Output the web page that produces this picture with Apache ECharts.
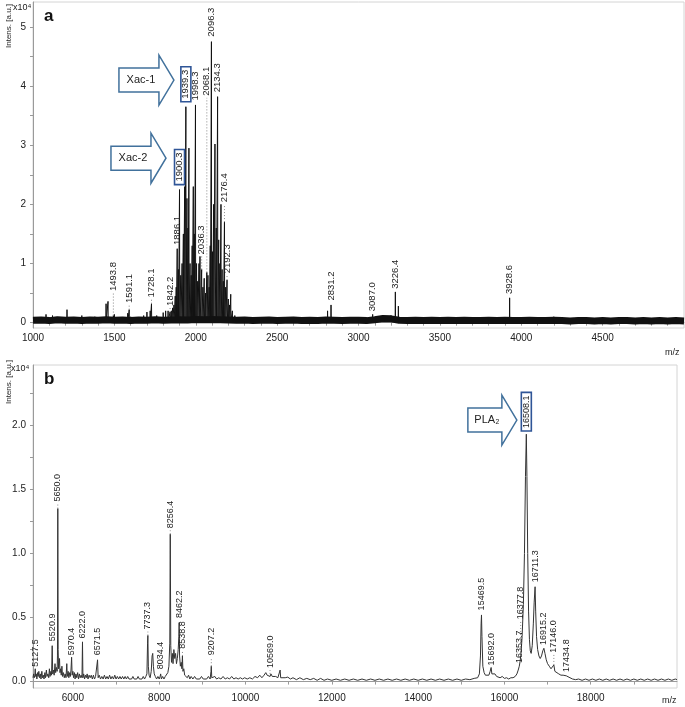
<!DOCTYPE html>
<html>
<head>
<meta charset="utf-8">
<script src="https://cdn.jsdelivr.net/npm/echarts@6.0.0/dist/echarts.min.js"></script>
<style>
html,body{margin:0;padding:0;background:#fff;}
#main{width:685px;height:707px;}
</style>
</head>
<body>
<div id="main"></div>
<script>
// ---------- panel a : m/z 1000 - 5000, intensity in units of 1e4
var aNoiseStart = 1000, aNoiseStep = 50;
var aNoise = [
  0.04,0.045,0.035,0.05,0.04,0.045,0.035,0.045,0.04,0.05,
  0.04,0.045,0.035,0.045,0.04,0.05,0.04,0.045,0.05,0.045,
  0.055,0.05,0.055,0.05,0.045,0.04,0.045,0.035,0.04,0.045,
  0.035,0.04,0.045,0.035,0.04,0.035,0.045,0.04,0.035,0.04,
  0.04,0.035,0.05,0.07,0.065,0.04,0.035,0.04,0.035,0.04,
  0.035,0.04,0.035,0.04,0.035,0.035,0.04,0.035,0.04,0.035,
  0.035,0.04,0.035,0.035,0.04,0.035,0.03,0.035,0.035,0.03,
  0.035,0.03,0.035,0.035,0.03,0.035,0.03,0.035,0.03,0.035,
  0.03
];
var aPeakMz = [1080,1120,1209,1300,1380,1449,1461,1493.8,1500,1582,1591.1,1600,1680,1700,1720,1728.1,1760,1800,1815,1830,1842.2,
  1850,1858,1866,1874,1880,1886.1,1893,1900.3,1908,1916,1924,1932,1939.3,1946,1952,1958,1965,1972,1978,1985,1991,1998.3,
  2005,2012,2020,2026,2036.3,2044,2052,2060,2068.1,2075,2082,2089,2096.3,2103,2110,2118,2126,2134.3,2141,2148,2155,2162,
  2169,2176.4,2184,2192.3,2200,2208,2215,2225,2240,2810,2831.2,3087.0,3160,3200,3226.4,3245,3928.6,4200,4250];
var aPeakInt = [0.14,0.12,0.22,0.12,0.1,0.32,0.36,0.12,0.14,0.16,0.22,0.1,0.12,0.18,0.2,0.32,0.12,0.17,0.2,0.2,0.18,
  0.2,0.25,0.3,0.45,0.6,1.25,0.9,2.25,0.8,1.0,1.5,2.3,3.65,2.1,1.6,2.95,1.0,0.8,1.3,2.3,1.5,3.68,
  1.0,0.7,1.0,1.12,0.9,0.6,0.75,0.5,0.85,0.8,0.6,1.3,4.75,1.2,2.0,3.02,1.6,3.82,1.4,1.0,2.0,0.9,
  0.7,1.7,0.6,0.72,0.4,0.3,0.48,0.2,0.12,0.2,0.3,0.14,0.1,0.12,0.52,0.28,0.42,0.1,0.08];
var aLabelMz   = [1493.8,1591.1,1728.1,1842.2,1886.1,1900.3,1939.3,1998.3,2036.3,2068.1,2096.3,2134.3,2176.4,2192.3,2831.2,3087.0,3226.4,3928.6];
var aLabelTop  = [0.12,0.22,0.32,0.18,1.25,2.25,3.65,3.68,0.9,0.85,4.75,3.82,1.7,0.72,0.3,0.14,0.52,0.42];
var aLabelBase = [0.5,0.3,0.39,0.25,1.28,2.3,3.7,3.72,1.12,3.8,4.8,3.86,2.0,0.8,0.34,0.16,0.54,0.45];
var aBoxed = ['1939.3', '1900.3'];
var aXTicks = [1000,1500,2000,2500,3000,3500,4000,4500];
var aYTicks = [0,1,2,3,4,5];
var aYMinor = [0,0.5,1,1.5,2,2.5,3,3.5,4,4.5,5];
var aArrowText = ['Xac-1', 'Xac-2'];
var aArrowMz = [1866, 1817];
var aArrowInt = [4.1, 2.78];

// ---------- panel b : m/z 5075 - 20000
var bSpectrum = [
  [5075,0.03],[5090,0.06],[5105,0.03],[5118,0.05],[5127,0.1],[5136,0.04],[5150,0.06],[5165,0.02],[5180,0.07],[5195,0.04],
  [5210,0.08],[5225,0.03],[5245,0.06],[5260,0.02],[5280,0.08],[5295,0.03],[5315,0.05],[5330,0.02],[5350,0.07],[5365,0.03],
  [5385,0.09],[5400,0.04],[5420,0.06],[5440,0.03],[5455,0.1],[5470,0.04],[5490,0.08],[5505,0.05],[5520,0.28],[5532,0.06],
  [5550,0.09],[5565,0.05],[5585,0.14],[5600,0.07],[5620,0.11],[5635,0.08],[5642,0.2],[5650,1.35],[5658,0.25],[5668,0.1],
  [5680,0.14],[5690,0.18],[5700,0.07],[5715,0.1],[5730,0.05],[5745,0.12],[5760,0.04],[5780,0.07],[5800,0.03],[5820,0.06],
  [5840,0.03],[5858,0.14],[5870,0.04],[5890,0.08],[5905,0.03],[5925,0.07],[5940,0.04],[5955,0.09],[5970,0.19],[5982,0.05],
  [6000,0.08],[6015,0.03],[6035,0.07],[6050,0.02],[6070,0.06],[6090,0.03],[6110,0.07],[6130,0.02],[6150,0.06],[6170,0.03],
  [6190,0.05],[6210,0.03],[6222,0.31],[6232,0.03],[6250,0.06],[6270,0.02],[6290,0.05],[6310,0.03],[6330,0.06],[6350,0.02],
  [6375,0.05],[6400,0.03],[6425,0.05],[6450,0.02],[6475,0.05],[6500,0.02],[6525,0.04],[6550,0.03],[6571,0.17],[6585,0.03],
  [6610,0.05],[6640,0.02],[6670,0.04],[6700,0.02],[6730,0.05],[6760,0.02],[6790,0.04],[6820,0.02],[6850,0.05],[6880,0.02],
  [6910,0.04],[6940,0.02],[6970,0.05],[7000,0.02],[7030,0.04],[7060,0.02],[7090,0.04],[7120,0.02],[7150,0.04],[7180,0.02],
  [7210,0.04],[7240,0.02],[7270,0.04],[7300,0.02],[7330,0.03],[7360,0.02],[7390,0.04],[7420,0.02],[7450,0.03],[7480,0.02],
  [7510,0.04],[7540,0.02],[7570,0.03],[7600,0.02],[7630,0.04],[7660,0.02],[7690,0.04],[7715,0.06],[7730,0.3],[7737,0.36],
  [7748,0.12],[7765,0.05],[7790,0.03],[7815,0.08],[7835,0.2],[7850,0.22],[7865,0.12],[7885,0.06],[7910,0.04],[7940,0.02],
  [7970,0.04],[8000,0.02],[8020,0.04],[8034,0.06],[8050,0.02],[8080,0.04],[8110,0.02],[8140,0.04],[8170,0.03],[8200,0.07],
  [8225,0.12],[8245,0.3],[8256,1.15],[8268,0.28],[8285,0.15],[8305,0.22],[8320,0.14],[8340,0.25],[8360,0.18],[8380,0.22],
  [8400,0.14],[8420,0.18],[8440,0.25],[8455,0.35],[8462,0.46],[8472,0.2],[8490,0.12],[8510,0.15],[8525,0.1],[8538,0.2],
  [8550,0.08],[8570,0.1],[8590,0.05],[8620,0.06],[8650,0.03],[8680,0.05],[8710,0.02],[8740,0.04],[8780,0.02],[8820,0.04],
  [8860,0.02],[8900,0.03],[8940,0.02],[8980,0.04],[9020,0.02],[9060,0.03],[9100,0.02],[9140,0.04],[9180,0.02],[9200,0.08],
  [9207,0.12],[9218,0.03],[9250,0.02],[9290,0.04],[9330,0.02],[9380,0.03],[9430,0.02],[9480,0.04],[9530,0.02],[9580,0.03],
  [9630,0.02],[9680,0.04],[9730,0.02],[9780,0.03],[9830,0.02],[9880,0.03],[9930,0.02],[9980,0.03],[10040,0.02],[10100,0.03],
  [10160,0.02],[10220,0.04],[10280,0.03],[10330,0.05],[10380,0.03],[10430,0.05],[10470,0.07],[10500,0.05],[10540,0.06],[10569,0.04],
  [10590,0.06],[10620,0.04],[10660,0.03],[10700,0.04],[10750,0.03],[10790,0.04],[10802,0.09],[10815,0.03],[10860,0.04],[10920,0.03],
  [10980,0.035],[11040,0.02],[11100,0.03],[11180,0.015],[11260,0.03],[11340,0.015],[11420,0.025],[11500,0.015],[11580,0.025],[11660,0.01],
  [11740,0.025],[11820,0.01],[11900,0.02],[12000,0.01],[12100,0.02],[12200,0.01],[12300,0.02],[12400,0.01],[12500,0.02],[12600,0.01],
  [12700,0.02],[12800,0.01],[12900,0.02],[13000,0.01],[13100,0.02],[13200,0.01],[13300,0.02],[13400,0.01],[13500,0.02],[13600,0.01],
  [13700,0.02],[13800,0.01],[13900,0.02],[14000,0.01],[14100,0.02],[14200,0.01],[14300,0.02],[14400,0.01],[14500,0.02],[14600,0.01],
  [14700,0.02],[14800,0.01],[14900,0.02],[15000,0.01],[15100,0.02],[15200,0.015],[15300,0.025],[15380,0.03],[15420,0.06],[15445,0.2],
  [15460,0.45],[15469,0.52],[15480,0.35],[15500,0.12],[15530,0.07],[15560,0.05],[15600,0.06],[15640,0.05],[15670,0.08],[15692,0.11],
  [15710,0.06],[15740,0.05],[15780,0.06],[15820,0.04],[15860,0.05],[15900,0.03],[15950,0.04],[16000,0.025],[16050,0.03],[16100,0.02],
  [16150,0.03],[16200,0.03],[16250,0.04],[16290,0.06],[16320,0.09],[16345,0.12],[16365,0.16],[16385,0.22],[16410,0.35],[16440,0.6],
  [16465,1.0],[16488,1.6],[16508,1.93],[16522,1.6],[16540,1.0],[16560,0.55],[16580,0.33],[16600,0.24],[16620,0.22],[16645,0.28],
  [16670,0.45],[16690,0.62],[16711,0.74],[16725,0.55],[16745,0.35],[16770,0.25],[16800,0.2],[16830,0.18],[16860,0.2],[16890,0.24],
  [16915,0.26],[16940,0.22],[16970,0.17],[17000,0.14],[17040,0.12],[17080,0.1],[17120,0.11],[17146,0.13],[17170,0.08],[17210,0.07],
  [17260,0.06],[17310,0.05],[17360,0.05],[17400,0.04],[17434,0.045],[17470,0.035],[17520,0.03],[17580,0.02],[17650,0.015],[17720,0.02],
  [17800,0.01],[17880,0.02],[17960,0.01],[18040,0.02],[18120,0.01],[18200,0.02],[18280,0.01],[18360,0.02],[18440,0.01],[18520,0.02],
  [18600,0.01],[18680,0.02],[18760,0.01],[18840,0.02],[18920,0.01],[19000,0.02],[19080,0.01],[19160,0.02],[19240,0.01],[19320,0.02],
  [19400,0.01],[19480,0.02],[19560,0.01],[19640,0.02],[19720,0.01],[19800,0.02],[19880,0.01],[19960,0.02],[20000,0.015]
];
var bLabelMz   = [5127.5,5520.9,5650.0,5970.4,6222.0,6571.5,7737.3,8034.4,8256.4,8462.2,8538.8,9207.2,10569.0,15469.5,15692.0,16353.7,16377.8,16508.1,16711.3,16915.2,17146.0,17434.8];
var bLabelTop  = [0.1,0.28,1.35,0.19,0.31,0.17,0.36,0.06,1.15,0.46,0.2,0.12,0.06,0.52,0.11,0.12,0.2,1.93,0.74,0.26,0.13,0.045];
var bLabelBase = [0.1,0.3,1.39,0.19,0.32,0.19,0.39,0.08,1.18,0.48,0.24,0.19,0.09,0.54,0.11,0.13,0.47,1.94,0.76,0.27,0.21,0.06];
var bBoxed = ['16508.1'];
var bXTicks = [6000,8000,10000,12000,14000,16000,18000];
var bXMinor = [6000,7000,8000,9000,10000,11000,12000,13000,14000,15000,16000,17000,18000,19000];
var bYTicks = [0,0.5,1.0,1.5,2.0];
var bYMinor = [0,0.25,0.5,0.75,1.0,1.25,1.5,1.75,2.0,2.25];
var bArrowText = ['PLA\u2082'];
var bArrowMz = [16289];
var bArrowInt = [2.04];

// ---------- builders
function noiseLine(start, step, vals) {
  return vals.map(function (v, i) { return [start + i * step, v]; });
}
function sticks(mz, h) {
  var out = [];
  mz.forEach(function (m, i) {
    out.push([m - 1.2, 0.03], [m, h[i]], [m + 1.2, 0.03]);
  });
  return out;
}
function labelRender(mzArr, topArr, baseArr, boxed, fs) {
  return function (params, api) {
    var i = params.dataIndex;
    var txt = mzArr[i].toFixed(1);
    var pTop = api.coord([mzArr[i], topArr[i]]);
    var pBase = api.coord([mzArr[i], baseArr[i]]);
    var kids = [];
    if (pTop[1] - pBase[1] > 3) {
      kids.push({ type: 'line', shape: { x1: pTop[0], y1: pTop[1], x2: pBase[0], y2: pBase[1] },
        style: { stroke: '#888', lineWidth: 1, lineDash: [1, 2] } });
    }
    var box = boxed.indexOf(txt) >= 0;
    kids.push({ type: 'text', x: pBase[0], y: pBase[1] - 2, rotation: Math.PI / 2,
      style: { text: txt, fontSize: fs, lineHeight: box ? 10 : fs + 1, fontFamily: 'Liberation Sans, Arial, sans-serif', fill: '#222',
        align: 'left', verticalAlign: 'middle',
        borderColor: box ? '#2f5597' : null, borderWidth: box ? 1.6 : 0, padding: box ? [0, 3] : 0 } });
    return { type: 'group', children: kids };
  };
}
function arrowRender(mzArr, intArr, textArr, bodyLen) {
  return function (params, api) {
    var i = params.dataIndex;
    var p = api.coord([mzArr[i], intArr[i]]);
    var x = p[0], y = p[1], hl = 15, hh = 50, bh = 24, bl = bodyLen;
    return { type: 'group', children: [
      { type: 'polygon', shape: { points: [[x, y], [x - hl, y - hh / 2], [x - hl, y - bh / 2], [x - hl - bl, y - bh / 2],
          [x - hl - bl, y + bh / 2], [x - hl, y + bh / 2], [x - hl, y + hh / 2]] },
        style: { fill: '#fff', stroke: '#41719c', lineWidth: 1.5 } },
      { type: 'text', x: x - hl - bl / 2 + 2, y: y, style: { text: textArr[i], fontSize: 11, fill: '#222',
          fontFamily: 'Liberation Sans, Arial, sans-serif', align: 'center', verticalAlign: 'middle' } }
    ] };
  };
}

var axisGrey = '#9a9a9a';
function xAxisBase(grid, min, max, labels, minor) {
  return {
    type: 'value', gridIndex: grid, min: min, max: max,
    axisLine: { show: true, lineStyle: { color: axisGrey, width: 1 } },
    axisTick: { show: true, length: 3, customValues: minor, lineStyle: { color: axisGrey } },
    axisLabel: { customValues: labels, color: '#222', fontSize: 10, margin: 5,
      formatter: function (v) { return String(v); } },
    splitLine: { show: false }
  };
}
function yAxisBase(grid, min, max, labels, minor, digits) {
  return {
    type: 'value', gridIndex: grid, min: min, max: max,
    axisLine: { show: true, lineStyle: { color: axisGrey, width: 1 } },
    axisTick: { show: true, length: 3, customValues: minor, lineStyle: { color: axisGrey } },
    axisLabel: { customValues: labels, color: '#222', fontSize: 10, margin: 7,
      formatter: function (v) { return v.toFixed(digits); } },
    splitLine: { show: false }
  };
}

var aXMinor = [];
aXTicks.forEach(function (t) { for (var k = 0; k < 5; k++) aXMinor.push(t + k * 100); });

var chart = echarts.init(document.getElementById('main'));
chart.setOption({
  animation: false,
  textStyle: { fontFamily: 'Liberation Sans, Arial, sans-serif' },
  grid: [
    { left: 33, right: 1, top: 2, bottom: 379, show: true, borderColor: '#d4d4d4', borderWidth: 1 },
    { left: 33, right: 8, top: 365, bottom: 19, show: true, borderColor: '#d4d4d4', borderWidth: 1 }
  ],
  xAxis: [
    xAxisBase(0, 1000, 5000, aXTicks, aXMinor),
    xAxisBase(1, 5075, 20000, bXTicks, bXMinor)
  ],
  yAxis: [
    yAxisBase(0, -0.09, 5.42, aYTicks, aYMinor, 0),
    yAxisBase(1, -0.05, 2.47, bYTicks, bYMinor, 1)
  ],
  graphic: [
    { type: 'text', x: 5, y: 48, rotation: Math.PI / 2, style: { text: 'Intens. [a.u.]', fontSize: 8, fill: '#222' } },
    { type: 'text', x: 13, y: 8, style: { text: 'x10\u2074', fontSize: 9, fill: '#222', verticalAlign: 'middle' } },
    { type: 'text', x: 44, y: 16, style: { text: 'a', fontSize: 17, fontWeight: 'bold', fill: '#111', verticalAlign: 'middle' } },
    { type: 'text', x: 665, y: 353, style: { text: 'm/z', fontSize: 9, fill: '#222', verticalAlign: 'middle' } },
    { type: 'text', x: 5, y: 404, rotation: Math.PI / 2, style: { text: 'Intens. [a.u.]', fontSize: 8, fill: '#222' } },
    { type: 'text', x: 11, y: 369, style: { text: 'x10\u2074', fontSize: 9, fill: '#222', verticalAlign: 'middle' } },
    { type: 'text', x: 44, y: 379, style: { text: 'b', fontSize: 17, fontWeight: 'bold', fill: '#111', verticalAlign: 'middle' } },
    { type: 'text', x: 662, y: 701, style: { text: 'm/z', fontSize: 9, fill: '#222', verticalAlign: 'middle' } }
  ],
  series: [
    { type: 'line', xAxisIndex: 0, yAxisIndex: 0, data: noiseLine(aNoiseStart, aNoiseStep, aNoise),
      showSymbol: false, lineStyle: { color: '#111', width: 7 }, z: 2 },
    { type: 'line', xAxisIndex: 0, yAxisIndex: 0, data: sticks(aPeakMz, aPeakInt), sampling: null,
      showSymbol: false, lineStyle: { color: '#111', width: 1 }, z: 3 },
    { type: 'custom', xAxisIndex: 0, yAxisIndex: 0, data: aLabelMz.map(function (m, i) { return [m, aLabelBase[i]]; }),
      renderItem: labelRender(aLabelMz, aLabelTop, aLabelBase, aBoxed, 9.5), z: 4 },
    { type: 'custom', xAxisIndex: 0, yAxisIndex: 0, data: aArrowMz.map(function (m, i) { return [m, aArrowInt[i]]; }),
      renderItem: arrowRender(aArrowMz, aArrowInt, aArrowText, 40), z: 5 },
    { type: 'line', xAxisIndex: 1, yAxisIndex: 1, data: bSpectrum,
      showSymbol: false, lineStyle: { color: '#333', width: 1 }, z: 3 },
    { type: 'custom', xAxisIndex: 1, yAxisIndex: 1, data: bLabelMz.map(function (m, i) { return [m, bLabelBase[i]]; }),
      renderItem: labelRender(bLabelMz, bLabelTop, bLabelBase, bBoxed, 9), z: 4 },
    { type: 'custom', xAxisIndex: 1, yAxisIndex: 1, data: bArrowMz.map(function (m, i) { return [m, bArrowInt[i]]; }),
      renderItem: arrowRender(bArrowMz, bArrowInt, bArrowText, 34), z: 5 }
  ]
});
</script>
</body>
</html>
